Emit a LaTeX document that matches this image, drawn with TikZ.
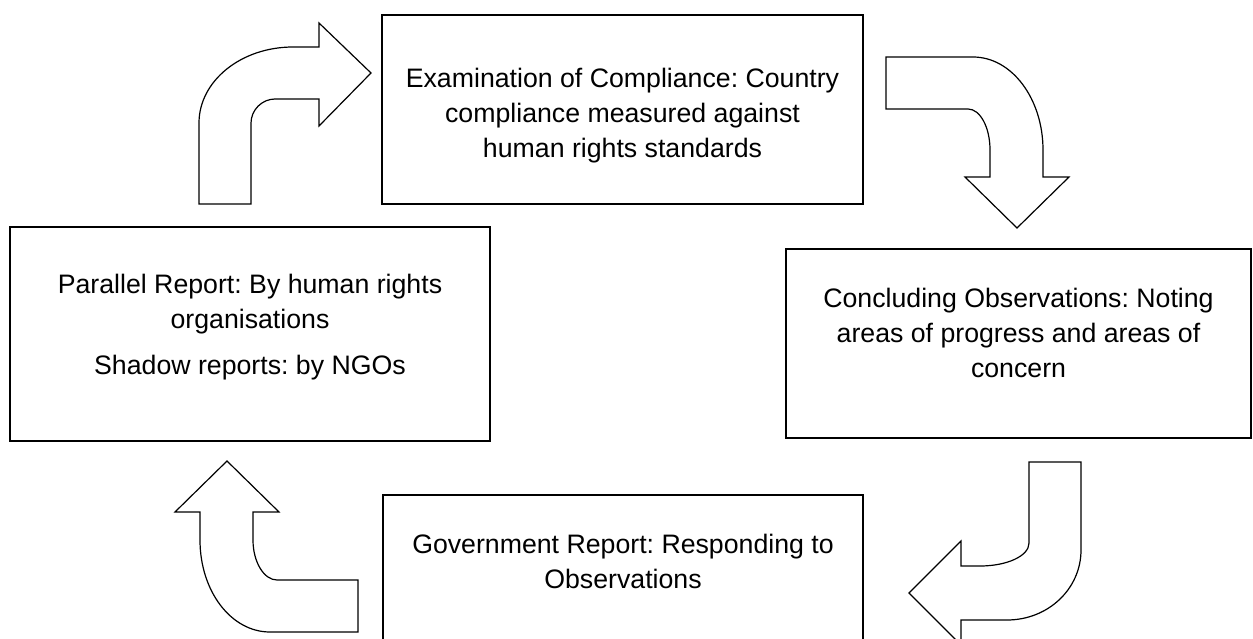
\documentclass[tikz,border=0pt]{standalone}
\usepackage{fontspec}
\setmainfont{Liberation Sans}
\frenchspacing

\begin{document}
\begin{tikzpicture}[x=1pt, y=-1pt,
    stagebox/.style={draw=black, line width=1.5pt, rectangle, inner sep=0pt},
    stagetext/.style={align=center, inner sep=0pt, font=\fontsize{26.7}{35}\selectfont},
    turnarrow/.style={draw=black, line width=1.2pt, fill=white}]
\useasboundingbox (0,0) rectangle (1253,639);

% the four stages
\node [stagebox, minimum width=481pt, minimum height=189pt] (exambox) at (622.5,109.5) {};
\node [stagebox, minimum width=465pt, minimum height=189pt] (concbox) at (1018.5,343.5) {};
\node [stagebox, minimum width=480pt, minimum height=190pt] (govbox) at (623,590) {};
\node [stagebox, minimum width=480pt, minimum height=214pt] (parbox) at (250,334) {};

\node [stagetext] (examtext) at ([yshift=-6pt]exambox.center) {Examination of Compliance: Country\\
    compliance measured against\\ human rights standards};
\node [stagetext] (conctext) at ([yshift=11pt]concbox.center) {Concluding Observations: Noting\\
    areas of progress and areas of\\ concern};
\node [stagetext, anchor=north] (govtext) at ([yshift=-40pt]govbox.north) {Government Report: Responding to\\ Observations};
\node [stagetext] (partext) at ([yshift=7pt]parbox.center) {Parallel Report: By human rights\\
    organisations\\[11pt] Shadow reports: by NGOs};

% bent arrows between the stages
\draw [turnarrow] (199,204) -- (199,123) .. controls (199,81) and (241,47) .. (293,47)
    -- (319,47) -- (319,23) -- (371,73) -- (319,126) -- (319,99) -- (275,99)
    .. controls (262,99) and (251,110) .. (251,123) -- (251,204) -- cycle;
\draw [turnarrow] (886,57) -- (973,57) .. controls (1012,57) and (1043,99) .. (1043,150)
    -- (1043,177) -- (1069,177) -- (1017,228) -- (965,177) -- (990,177) -- (990,150)
    .. controls (990,127) and (980,109) .. (968,109) -- (886,109) -- cycle;
\draw [turnarrow] (1029,462) -- (1081,462) -- (1081,550) .. controls (1081,589) and (1048,620) .. (1007,620)
    -- (961,620) -- (961,645) -- (909,593) -- (961,541) -- (961,566) -- (980,566)
    .. controls (1007,566) and (1029,556) .. (1029,543) -- cycle;
\draw [turnarrow] (227,461) -- (279,512) -- (253,512) -- (253,540)
    .. controls (253,562) and (264,580) .. (277,580) -- (358,580) -- (358,632) -- (270,632)
    .. controls (231,632) and (200,591) .. (200,540) -- (200,512) -- (175,512) -- cycle;
\end{tikzpicture}
\end{document}
